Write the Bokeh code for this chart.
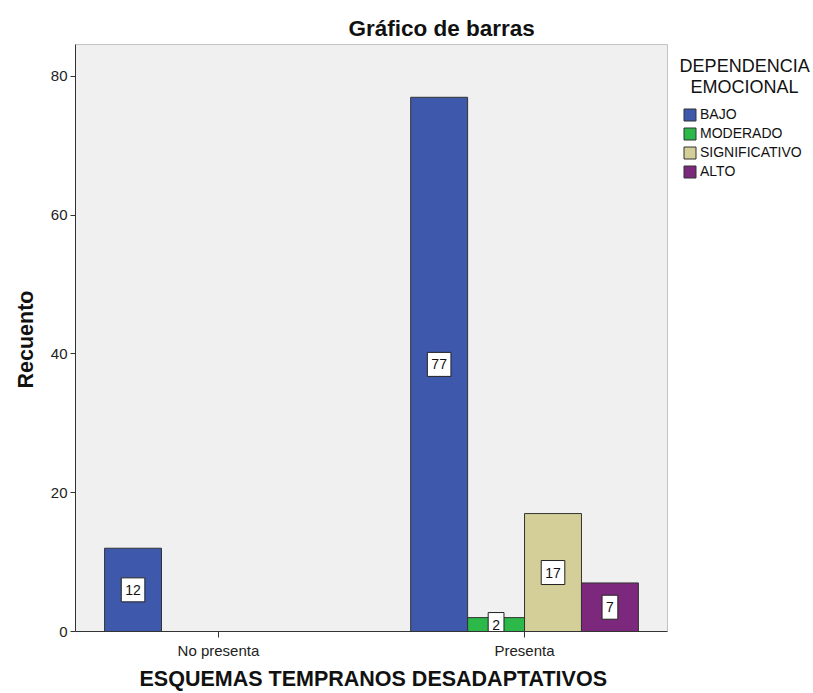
from bokeh.plotting import figure
from bokeh.models import (ColumnDataSource, Legend, LegendItem, FixedTicker, Range1d,
                          Label, BoxAnnotation, Title)
from bokeh.core.properties import value
from bokeh.embed import file_html
from bokeh.resources import INLINE

categories = ["No presenta", "Presenta"]
levels = ["BAJO", "MODERADO", "SIGNIFICATIVO", "ALTO"]
counts = {
    "BAJO": [12, 77],
    "MODERADO": [0, 2],
    "SIGNIFICATIVO": [0, 17],
    "ALTO": [0, 7],
}
colors = ["#3E58AC", "#2DB84A", "#D4CE98", "#7C287C"]
y_ticks = [0, 20, 40, 60, 80]

FONT = "Liberation Sans"
bar_w = 0.186
X0, X1 = -0.467, 1.467      # extent of the grey plot box
Y_TOP = 84.6

p = figure(frame_width=738, frame_height=631, output_backend="svg", toolbar_location=None,
           x_range=Range1d(X0, 1.944), y_range=Range1d(0, 90.95),
           min_border_left=75, min_border_right=0, min_border_top=0, min_border_bottom=62)
p.background_fill_color = "white"
p.border_fill_color = "white"
p.outline_line_color = None
p.xgrid.visible = False
p.ygrid.visible = False

p.add_layout(BoxAnnotation(left=X0, right=X1, bottom=0, top=Y_TOP,
                           fill_color="#F0F0F0", fill_alpha=1,
                           line_color="#444444", line_width=1, level="underlay"))

items = []
lab_x, lab_y, lab_t = [], [], []
for i, lev in enumerate(levels):
    off = (i - 1.5) * bar_w
    xs, tops = [], []
    for j, c in enumerate(categories):
        v = counts[lev][j]
        if v > 0:
            xs.append(j + off)
            tops.append(v)
            lab_x.append(j + off)
            lab_y.append(v / 2)
            lab_t.append(str(v))
    src = ColumnDataSource(dict(x=xs, top=tops))
    r = p.vbar(x="x", top="top", bottom=0, width=bar_w, source=src,
               fill_color=colors[i], line_color="#333333", line_width=1)
    items.append(LegendItem(label=lev, renderers=[r]))

lsrc = ColumnDataSource(dict(x=lab_x, y=lab_y, t=lab_t))
p.text(x="x", y="y", text="t", source=lsrc, text_align="center",
       text_baseline="middle", text_font=value(FONT), text_font_size="14px",
       text_color="#111111", background_fill_color="white",
       border_line_color="#222222", border_line_width=1,
       padding=dict(left=4, right=4, top=7, bottom=7))

# chart title
p.add_layout(Label(x=0.729, y=86.9, text="Gráfico de barras", text_align="center",
                   text_baseline="middle", text_font=FONT, text_font_size="22.5px",
                   text_font_style="bold", text_color="#111111"))

# legend title
p.add_layout(Label(x=1.719, y=82.9, text="DEPENDENCIA\nEMOCIONAL", text_align="center",
                   text_baseline="top", text_font=FONT, text_font_size="18px",
                   text_line_height=1.05, text_color="#111111"))

legend = Legend(items=items, location=(607, 452))
legend.label_text_font = FONT
legend.label_text_font_size = "14px"
legend.label_text_color = "#111111"
legend.glyph_width = 15
legend.glyph_height = 15
legend.label_height = 15
legend.spacing = 3
legend.label_standoff = 3
legend.border_line_color = None
legend.background_fill_alpha = 0
legend.margin = 0
legend.padding = 0
p.add_layout(legend)

p.xaxis.ticker = FixedTicker(ticks=[0, 1])
p.xaxis.major_label_overrides = {0: categories[0], 1: categories[1]}
p.xaxis.bounds = (X0, X1)
p.xaxis.minor_tick_line_color = None
p.xaxis.major_tick_out = 6
p.xaxis.major_tick_in = 0

p.yaxis.ticker = FixedTicker(ticks=y_ticks)
p.yaxis.bounds = (0, Y_TOP)
p.yaxis.minor_tick_line_color = None
p.yaxis.major_tick_out = 5
p.yaxis.major_tick_in = 0

for ax in (p.xaxis, p.yaxis):
    ax.axis_line_color = "#333333"
    ax.major_tick_line_color = "#333333"
    ax.major_label_text_font = FONT
    ax.major_label_text_font_size = "15px"
    ax.major_label_text_color = "#222222"

p.xaxis.major_label_standoff = 4
p.yaxis.major_label_standoff = 3

# axis titles, centred on the grey plot box rather than the whole frame
xt = Title(text="ESQUEMAS TEMPRANOS DESADAPTATIVOS", align="left", offset=64,
           text_font=FONT, text_font_size="21.5px", text_font_style="bold",
           text_color="#111111", standoff=6)
p.add_layout(xt, "below")
yt = Title(text="Recuento", align="left", offset=243,
           text_font=FONT, text_font_size="21.5px", text_font_style="bold",
           text_color="#111111", standoff=20)
p.add_layout(yt, "left")

open("out.html", "w").write(file_html(p, INLINE))
